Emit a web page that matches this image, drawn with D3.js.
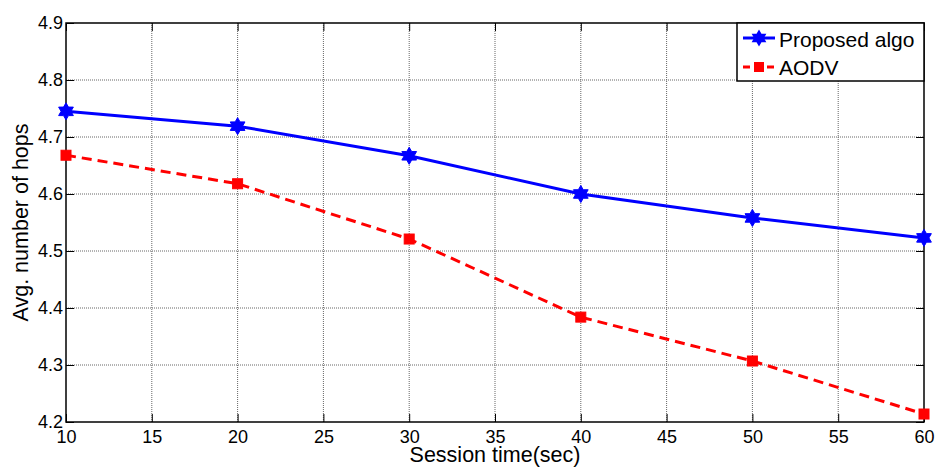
<!DOCTYPE html>
<html>
<head>
<meta charset="utf-8">
<script src="https://cdn.jsdelivr.net/npm/d3@7"></script>
<style>
  body { margin: 0; background: #fff; }
  svg { font-family: "Liberation Sans", Arial, sans-serif; }
</style>
</head>
<body>
<svg width="935" height="468"></svg>
<script>
// session time on x axis
var sessionTime = [10, 20, 30, 40, 50, 60];
var proposedAlgo = [4.745, 4.719, 4.667, 4.600, 4.558, 4.523];
var aodv = [4.668, 4.618, 4.521, 4.384, 4.307, 4.214];
var xTicks = [10, 15, 20, 25, 30, 35, 40, 45, 50, 55, 60];
var yTicks = [4.2, 4.3, 4.4, 4.5, 4.6, 4.7, 4.8, 4.9];

var svg = d3.select("svg"),
    margin = {top: 23, right: 10, bottom: 46, left: 66},
    width = 924 - margin.left,
    height = 422 - margin.top,
    g = svg.append("g").attr("transform", "translate(" + margin.left + "," + margin.top + ")");

var x = d3.scaleLinear().domain([10, 60]).range([0, width]),
    y = d3.scaleLinear().domain([4.2, 4.9]).range([height, 0]);

// gridlines
g.append("g")
    .selectAll("line")
    .data(xTicks.slice(1, -1))
    .enter().append("line")
    .attr("x1", function (d) { return x(d); })
    .attr("x2", function (d) { return x(d); })
    .attr("y1", 0).attr("y2", height)
    .attr("stroke", "#666").attr("stroke-width", 1).attr("stroke-dasharray", "1,1");

g.append("g")
    .selectAll("line")
    .data(yTicks.slice(1, -1))
    .enter().append("line")
    .attr("y1", function (d) { return y(d); })
    .attr("y2", function (d) { return y(d); })
    .attr("x1", 0).attr("x2", width)
    .attr("stroke", "#666").attr("stroke-width", 1).attr("stroke-dasharray", "1,1");

// axes with inward ticks
var xAxis = g.append("g")
    .attr("transform", "translate(0," + height + ")")
    .call(d3.axisBottom(x).tickValues(xTicks).tickSizeInner(-8).tickSizeOuter(0).tickPadding(8));
var yAxis = g.append("g")
    .call(d3.axisLeft(y).tickValues(yTicks).tickFormat(d3.format(".1f")).tickSizeInner(-8).tickSizeOuter(0).tickPadding(3));

[xAxis, yAxis].forEach(function (a) {
    a.selectAll("text").style("font-size", "18px").attr("fill", "#000");
    a.selectAll("line").attr("stroke", "#000");
    a.select(".domain").remove();
});

// top and right ticks
g.append("g")
    .call(d3.axisTop(x).tickValues(xTicks).tickSizeInner(-8).tickSizeOuter(0).tickFormat(""))
    .call(function (a) { a.select(".domain").remove(); a.selectAll("line").attr("stroke", "#000"); });
g.append("g")
    .attr("transform", "translate(" + width + ",0)")
    .call(d3.axisRight(y).tickValues(yTicks).tickSizeInner(-8).tickSizeOuter(0).tickFormat(""))
    .call(function (a) { a.select(".domain").remove(); a.selectAll("line").attr("stroke", "#000"); });

// box
g.append("rect")
    .attr("width", width).attr("height", height)
    .attr("fill", "none").attr("stroke", "#000").attr("stroke-width", 1.5);

var line = d3.line()
    .x(function (d, i) { return x(sessionTime[i]); })
    .y(function (d) { return y(d); });

function hexagram(r) {
    var pts = [];
    for (var i = 0; i < 12; i++) {
        var a = Math.PI / 6 * i - Math.PI / 2;
        var rr = i % 2 === 0 ? r : r * 0.58;
        pts.push([rr * Math.cos(a), rr * Math.sin(a)]);
    }
    return "M" + pts.join("L") + "Z";
}

// AODV
g.append("path")
    .datum(aodv)
    .attr("d", line)
    .attr("fill", "none").attr("stroke", "#ff0000").attr("stroke-width", 3)
    .attr("stroke-dasharray", "10,6");

g.selectAll(".sq")
    .data(aodv)
    .enter().append("rect")
    .attr("x", function (d, i) { return x(sessionTime[i]) - 5; })
    .attr("y", function (d) { return y(d) - 5; })
    .attr("width", 10).attr("height", 10)
    .attr("fill", "#ff0000").attr("stroke", "#ff0000").attr("stroke-width", 1);

// Proposed algo
g.append("path")
    .datum(proposedAlgo)
    .attr("d", line)
    .attr("fill", "none").attr("stroke", "#0000ff").attr("stroke-width", 3);

g.selectAll(".st")
    .data(proposedAlgo)
    .enter().append("path")
    .attr("transform", function (d, i) { return "translate(" + x(sessionTime[i]) + "," + y(d) + ")"; })
    .attr("d", hexagram(8.5))
    .attr("fill", "#0000ff").attr("stroke", "#0000ff").attr("stroke-width", 1);

// legend
var lg = g.append("g").attr("transform", "translate(" + (width - 187) + ",0)");
lg.append("rect")
    .attr("width", 187).attr("height", 58)
    .attr("fill", "#fff").attr("stroke", "#000").attr("stroke-width", 1.5);
lg.append("line").attr("x1", 6).attr("x2", 38).attr("y1", 15).attr("y2", 15)
    .attr("stroke", "#0000ff").attr("stroke-width", 3);
lg.append("path").attr("transform", "translate(22,15)").attr("d", hexagram(8.5)).attr("fill", "#0000ff");
lg.append("text").attr("x", 42).attr("y", 24)
    .style("font-size", "21px").text("Proposed algo");
lg.append("line").attr("x1", 6).attr("x2", 38).attr("y1", 44).attr("y2", 44)
    .attr("stroke", "#ff0000").attr("stroke-width", 3).attr("stroke-dasharray", "7,5");
lg.append("rect").attr("x", 17).attr("y", 39).attr("width", 10).attr("height", 10).attr("fill", "#ff0000");
lg.append("text").attr("x", 42).attr("y", 52)
    .style("font-size", "21px").text("AODV");

// axis labels
svg.append("text")
    .attr("x", margin.left + width / 2).attr("y", 462)
    .style("text-anchor", "middle").style("font-size", "21.5px")
    .text("Session time(sec)");
svg.append("text")
    .attr("transform", "translate(28," + (margin.top + height / 2) + ")rotate(-90)")
    .style("text-anchor", "middle").style("font-size", "21.5px")
    .text("Avg. number of hops");
</script>
</body>
</html>
